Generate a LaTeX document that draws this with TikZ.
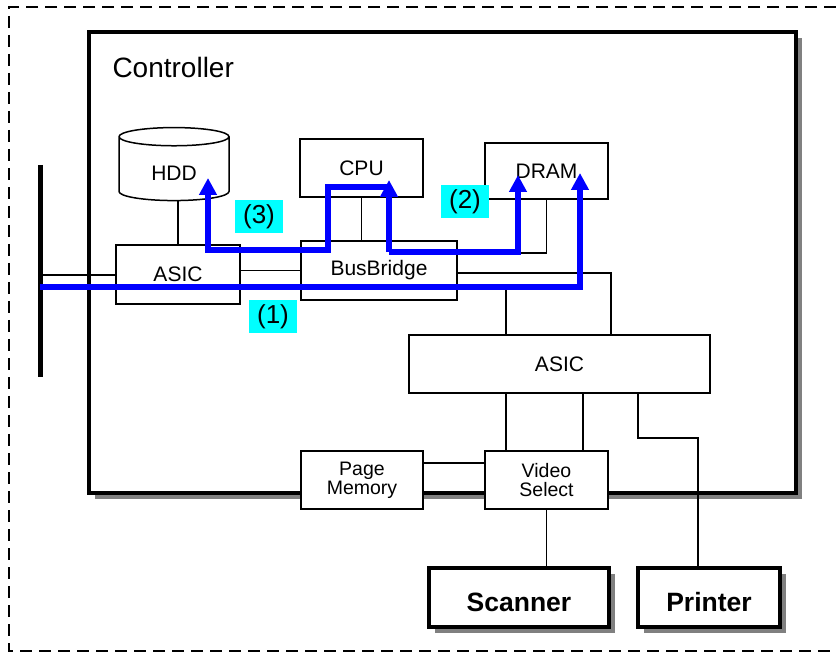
\documentclass[tikz,border=0pt]{standalone}
\usepackage{fontspec}
\setmainfont{Liberation Sans}
\usepackage{tikz}
\usetikzlibrary{arrows.meta,calc,positioning,shapes.geometric,shadows}
\definecolor{tagcyan}{RGB}{0,255,255}
\definecolor{pathblue}{RGB}{0,0,255}
\tikzset{%
	unit/.style    = {draw, line width=1.5pt, fill=white, inner sep=0pt, align=center, font=\fontsize{21}{17}\selectfont},
	device/.style  = {draw, rectangle, line width=3.5pt, fill=white, inner sep=0pt, font=\fontsize{26.5}{30}\selectfont\bfseries, text height=28pt, text depth=-12pt, drop shadow={shadow xshift=6pt, shadow yshift=-6pt, fill=gray, opacity=1}},
	wire/.style    = {line width=1.5pt},
	flow/.style    = {draw=pathblue, line width=5.5pt, -{Triangle[length=17pt,width=17pt]}},
	tag/.style     = {fill=tagcyan, inner sep=0pt, minimum width=48pt, minimum height=33pt, font=\fontsize{26}{30}\selectfont},
}
\begin{document}
\begin{tikzpicture}[x=1pt,y=-1pt]
	\useasboundingbox (0,0) rectangle (836,652);
	\draw[line width=1.3pt, dash pattern=on 12pt off 7pt] (836,7) -- (9,7) -- (9,651) -- (836,651);
	
	% controller board
	\node[draw, line width=3.5pt, fill=white, inner sep=0pt, minimum width=707pt, minimum height=461pt, drop shadow={shadow xshift=6pt, shadow yshift=-6pt, fill=gray, opacity=1}] (ctrl) at (442.5,262.5) {};
	\node[anchor=base west, font=\fontsize{28}{30}\selectfont] (ctrltitle) at (109,78) {Controller};
	
	\node[unit, minimum width=124pt, minimum height=59pt] (asicA) at (178,274.5) {ASIC};
	\node[unit, minimum width=156pt, minimum height=59pt] (bridge) at (379,270.5) {BusBridge};
	\node[unit, minimum width=123pt, minimum height=58pt] (cpu) at (361.5,168) {CPU};
	\node[unit, minimum width=123pt, minimum height=56pt] (dram) at (546.5,171) {DRAM};
	\node[unit, cylinder, shape border rotate=90, aspect=0.4, minimum width=110pt, minimum height=73pt, text height=23pt, text depth=-10pt] (hdd) at (174,169) {HDD};
	\node[unit, minimum width=301pt, minimum height=58pt] (asicB) at (559.5,364) {ASIC};
	\node[unit, minimum width=122pt, minimum height=58pt, font=\fontsize{19.5}{19}\selectfont] (pagemem) at (362,480) {Page\\Memory};
	\node[unit, minimum width=123pt, minimum height=58pt, font=\fontsize{19.5}{19}\selectfont] (vsel) at (546.5,480) {Video\\Select};
	\node[device, minimum width=180pt, minimum height=59pt] (scanner) at (519,597.5) {Scanner};
	\node[device, minimum width=142pt, minimum height=59pt] (printer) at (709,597.5) {Printer};
	
	% external bus
	\coordinate (busT) at (40,165);
	\coordinate (busB) at (40,377);
	\draw[line width=5pt] (busT) -- (busB);
	
	\draw[wire] (busT |- 0,275) -- (asicA.west |- 0,275);
	\draw[wire] (asicA.east |- bridge.west) -- (bridge.west);
	\draw[wire] (asicA.north) -- (asicA.north |- hdd.south);
	\draw[wire] (cpu.south) -- (cpu.south |- bridge.north);
	\draw[wire] (bridge.east |- 0,253) -| (dram.south);
	\draw[wire] (bridge.east |- 0,273) -| (asicB.north -| 611,0);
	\draw[wire] (506,287) -- (asicB.north -| 506,0);
	\draw[wire] (asicB.south -| 506,0) -- (vsel.north -| 506,0);
	\draw[wire] (asicB.south -| 583,0) -- (vsel.north -| 583,0);
	\draw[wire] (asicB.south -| 638,0) |- (698,438) -- (printer.north -| 698,0);
	\draw[wire] (vsel.south) -- (scanner.north -| vsel.south);
	\draw[wire] (pagemem.east |- 0,463) -- (vsel.west |- 0,463);
	
	% data paths
	\coordinate (cpuport) at (389,252);
	\coordinate (cputurn) at (389,187);
	\draw[flow] (busT |- 0,287) -| ([xshift=33.5pt,yshift=-2pt]dram.center);
	\draw[flow] (cpuport) -| ([xshift=-28.5pt,yshift=-4pt]dram.center);
	\draw[flow] (cpuport) -- ([xshift=27.5pt,yshift=-12pt]cpu.center);
	\draw[flow] (cputurn) -| (328,250) -| ([xshift=34pt,yshift=-9pt]hdd.center);
	
	\node[tag] (tag3) at (259,217) {(3)};
	\node[tag] (tag2) at (465,201.5) {(2)};
	\node[tag] (tag1) at (273,316.5) {(1)};
\end{tikzpicture}
\end{document}
